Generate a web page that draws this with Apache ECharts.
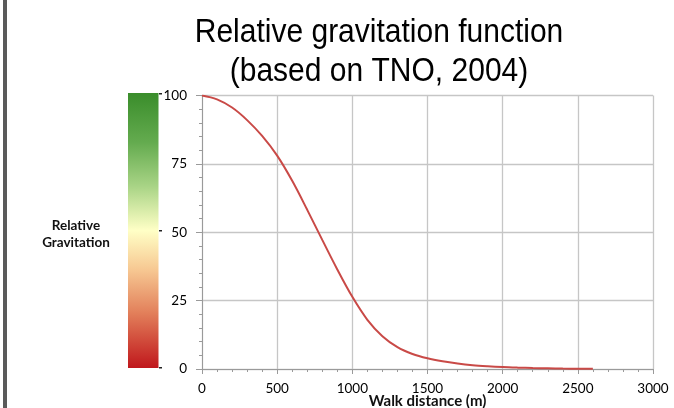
<!DOCTYPE html>
<html>
<head>
<meta charset="utf-8">
<script src="https://cdn.jsdelivr.net/npm/echarts@6/dist/echarts.min.js"></script>
<style>
  html, body { margin: 0; padding: 0; background: #ffffff; }
  #chart { width: 674px; height: 408px; }
</style>
</head>
<body>
<div id="chart"></div>
<script>
// Walk distance in metres and the relative gravitation (%) at each distance
const walkDistance = [0, 100, 200, 300, 400, 500, 600, 700, 800, 900, 1000, 1100, 1200, 1300,
  1400, 1500, 1600, 1700, 1800, 1900, 2000, 2100, 2200, 2300, 2400, 2500, 2600];
const gravitation = [100, 98.6, 95.6, 91.0, 85.2, 78.0, 68.8, 58.2, 47.2, 36.4, 26.4, 18.0, 12.0, 8.0,
  5.5, 3.9, 2.8, 2.0, 1.4, 1.0, 0.7, 0.5, 0.35, 0.25, 0.15, 0.1, 0.05];
const xTicks = [0, 500, 1000, 1500, 2000, 2500, 3000];
const yTicks = [0, 25, 50, 75, 100];

const points = walkDistance.map((d, i) => [d, gravitation[i]]);

const chart = echarts.init(document.getElementById('chart'), null, { renderer: 'canvas' });

const gridColor = '#c6c6c6';
const axisColor = '#9a9a9a';
const labelFont = 'Lato, "Noto Sans", sans-serif';

chart.setOption({
  animation: false,
  backgroundColor: '#ffffff',
  grid: {
    left: 202, right: 21, top: 95.5, bottom: 39,
    containLabel: false,
    outerBoundsMode: 'none'
  },
  xAxis: {
    type: 'value',
    min: xTicks[0],
    max: xTicks[xTicks.length - 1],
    interval: xTicks[1] - xTicks[0],
    name: 'Walk distance (m)',
    nameLocation: 'middle',
    nameGap: 25,
    nameMoveOverlap: false,
    nameTextStyle: { fontFamily: labelFont, fontWeight: 'bold', fontSize: 15, color: '#111' },
    axisLine: { show: true, lineStyle: { color: axisColor, width: 1 } },
    axisTick: { show: true, length: 5, lineStyle: { color: axisColor } },
    minorTick: { show: true, splitNumber: 5, length: 3, lineStyle: { color: axisColor } },
    axisLabel: {
      fontFamily: labelFont, fontSize: 13.5, color: '#000', margin: 13,
      formatter: v => String(v)
    },
    splitLine: { show: true, lineStyle: { color: gridColor, width: 1.3 } }
  },
  yAxis: {
    type: 'value',
    min: yTicks[0],
    max: yTicks[yTicks.length - 1],
    interval: yTicks[1] - yTicks[0],
    axisLine: { show: true, lineStyle: { color: axisColor, width: 1 } },
    axisTick: { show: true, length: 6, lineStyle: { color: axisColor } },
    minorTick: { show: true, splitNumber: 5, length: 3, lineStyle: { color: axisColor } },
    axisLabel: { fontFamily: labelFont, fontSize: 13.5, color: '#000', margin: 15 },
    splitLine: { show: true, lineStyle: { color: gridColor, width: 1.3 } }
  },
  graphic: [
    // two-line chart title
    {
      type: 'text', x: 379, y: 13, scaleY: 1.1,
      style: {
        text: 'Relative gravitation function\n(based on TNO, 2004)',
        font: '30px "Liberation Sans", Arial, sans-serif',
        lineHeight: 36,
        fill: '#000',
        align: 'center',
        verticalAlign: 'top'
      }
    },
    // dark frame edge on the left
    { type: 'rect', left: 3, top: 0, shape: { width: 4, height: 408 }, style: { fill: '#5a5a5a' } },
    // colour scale bar
    {
      type: 'rect', left: 128, top: 93,
      shape: { width: 30.5, height: 275 },
      style: {
        fill: new echarts.graphic.LinearGradient(0, 0, 0, 1, [
          { offset: 0, color: '#3a8d2b' },
          { offset: 0.18, color: '#64ab4f' },
          { offset: 0.34, color: '#a9d486' },
          { offset: 0.5, color: '#ffffc6' },
          { offset: 0.64, color: '#f7c993' },
          { offset: 0.8, color: '#e27f5a' },
          { offset: 1, color: '#c0171c' }
        ])
      }
    },
    // scale bar ticks at 100, 50 and 0
    { type: 'rect', left: 159, top: 93, shape: { width: 3, height: 1.5 }, style: { fill: '#222' } },
    { type: 'rect', left: 159, top: 230, shape: { width: 3, height: 1.5 }, style: { fill: '#222' } },
    { type: 'rect', left: 159, top: 367, shape: { width: 3, height: 1.5 }, style: { fill: '#222' } },
    // scale bar caption
    {
      type: 'text', x: 76, y: 234.5,
      style: {
        text: 'Relative\nGravitation',
        fill: '#111',
        font: 'bold 13.5px ' + labelFont,
        lineHeight: 17,
        align: 'center',
        verticalAlign: 'middle'
      }
    }
  ],
  series: [{
    type: 'line',
    data: points,
    smooth: 0.35,
    showSymbol: false,
    lineStyle: { color: '#c94a47', width: 2 },
    z: 5
  }]
});
</script>
</body>
</html>
